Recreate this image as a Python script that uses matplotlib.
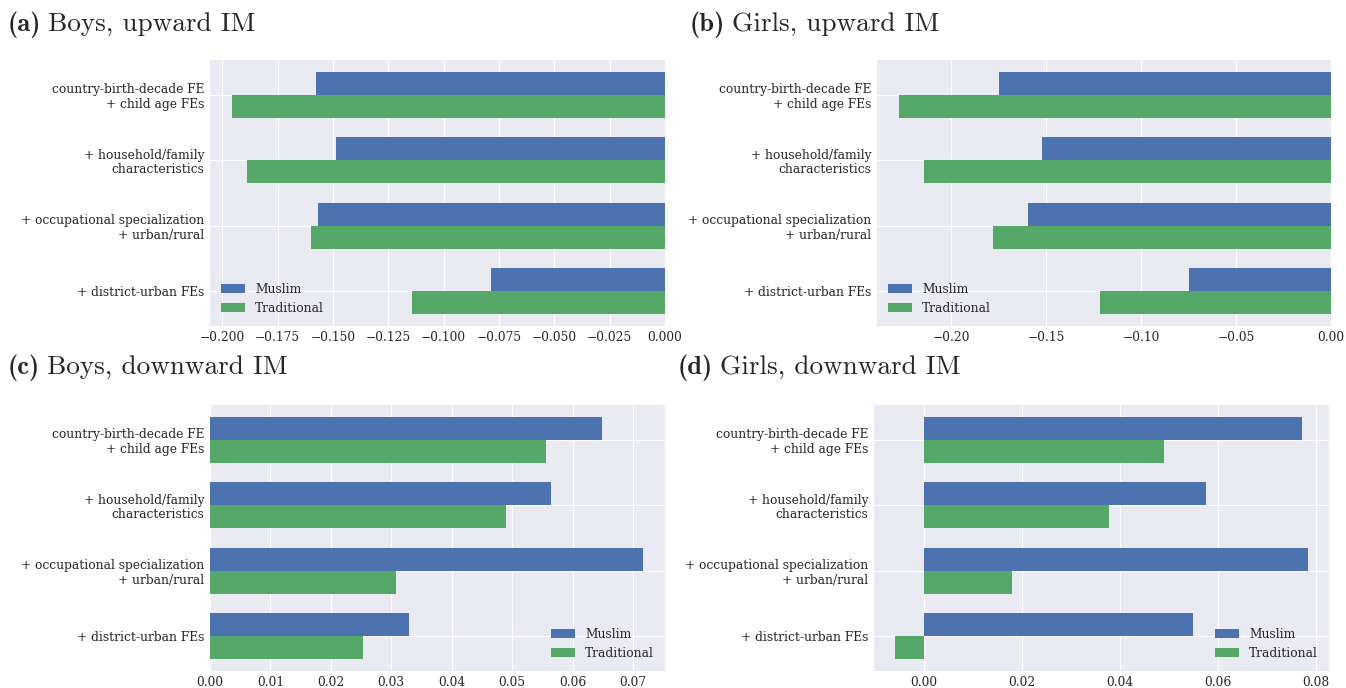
import numpy as np
import matplotlib
matplotlib.use("Agg")
import matplotlib.pyplot as plt

# data
categories = ["country-birth-decade FE\n+ child age FEs",
              "+ household/family\ncharacteristics",
              "+ occupational specialization\n+ urban/rural",
              "+ district-urban FEs"]
series = ["Muslim", "Traditional"]

boys_up_muslim = [-0.1576, -0.1486, -0.1567, -0.0786]
boys_up_trad = [-0.1957, -0.1888, -0.1600, -0.1143]
girls_up_muslim = [-0.1750, -0.1520, -0.1598, -0.0748]
girls_up_trad = [-0.2277, -0.2145, -0.1780, -0.1214]
boys_down_muslim = [0.0648, 0.0565, 0.0717, 0.0329]
boys_down_trad = [0.0556, 0.0489, 0.0308, 0.0253]
girls_down_muslim = [0.0771, 0.0576, 0.0784, 0.0548]
girls_down_trad = [0.0489, 0.0377, 0.0181, -0.0059]

titles = ["(a)", "(b)", "(c)", "(d)"]
subtitles = ["Boys, upward IM", "Girls, upward IM",
             "Boys, downward IM", "Girls, downward IM"]

plt.style.use("seaborn-v0_8-darkgrid")
plt.rcParams["font.family"] = "DejaVu Serif"
plt.rcParams["font.stretch"] = "normal"
plt.rcParams["axes.unicode_minus"] = True

BLUE = "#4C72B0"
GREEN = "#55A868"
W, H = 1346.0, 688.0
FS = 8.8


def px_axes(fig, left, right, top, bottom):
    return fig.add_axes([left / W, (H - bottom) / H, (right - left) / W, (bottom - top) / H])


def draw_panel(ax, muslim, trad, legend_loc):
    y = np.arange(len(categories))
    h = 0.35
    ax.barh(y - h / 2, muslim, h, color=BLUE, label=series[0])
    ax.barh(y + h / 2, trad, h, color=GREEN, label=series[1])
    ax.set_yticks(y)
    ax.set_yticklabels(categories, fontsize=FS, ha="right", multialignment="right",
                       linespacing=1.15)
    ax.invert_yaxis()
    ax.tick_params(axis="x", labelsize=FS)
    ax.tick_params(axis="y", pad=4)
    ax.legend(loc=legend_loc, fontsize=FS, frameon=False)


fig = plt.figure(figsize=(13.46, 6.88), dpi=100)

ax_a = px_axes(fig, 210, 665, 60, 326)
draw_panel(ax_a, boys_up_muslim, boys_up_trad, "lower left")
ax_b = px_axes(fig, 877, 1331, 60, 326)
draw_panel(ax_b, girls_up_muslim, girls_up_trad, "lower left")
ax_c = px_axes(fig, 210, 665, 405, 671)
draw_panel(ax_c, boys_down_muslim, boys_down_trad, "lower right")
ax_d = px_axes(fig, 874, 1329, 405, 671)
draw_panel(ax_d, girls_down_muslim, girls_down_trad, "lower right")

# panel titles: bold label in cmb10, rest in cmr10, on a common baseline
renderer = fig.canvas.get_renderer()
title_pos = [(8, 31), (690, 31), (8, 374), (678, 374)]
for (tx, ty), lab, sub in zip(title_pos, titles, subtitles):
    t1 = fig.text(tx / W, 1 - ty / H, lab, fontsize=19, family="cmb10",
                  ha="left", va="baseline")
    x_end = t1.get_window_extent(renderer=renderer).x1
    fig.text((x_end + 7) / W, 1 - ty / H, sub, fontsize=19.6, family="cmr10",
             ha="left", va="baseline")

fig.savefig("out.png", dpi=100)
